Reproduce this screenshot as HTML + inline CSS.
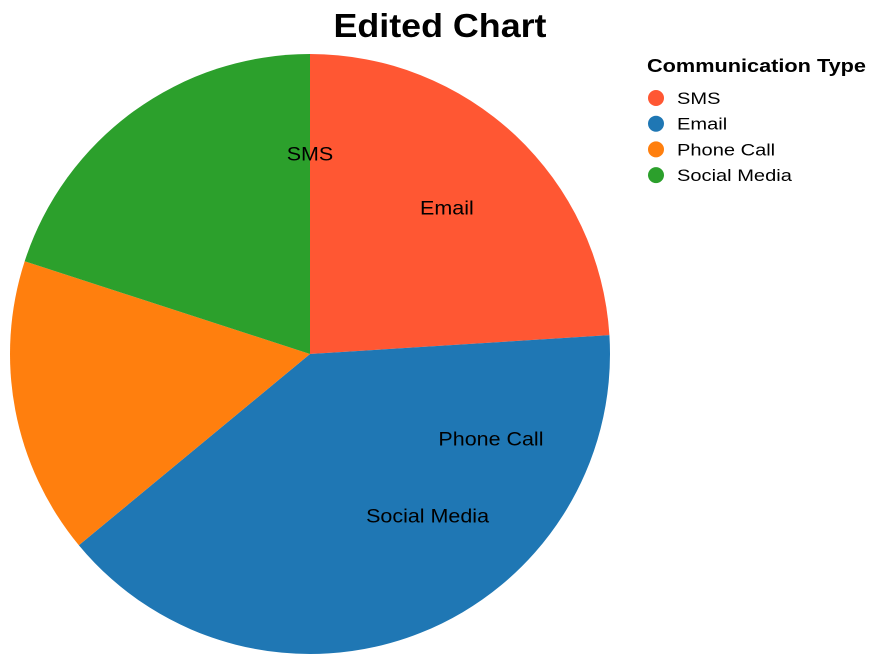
<!DOCTYPE html>
<html><head><meta charset="utf-8"><style>
html,body{margin:0;padding:0;background:#fff;}
svg{display:block;font-family:"Liberation Sans",Arial,sans-serif;}
</style></head><body>
<svg id="chart" width="880" height="664" viewBox="0 0 880 664">
<text x="440" y="37" text-anchor="middle" font-size="33" font-weight="bold" fill="#000" textLength="213" lengthAdjust="spacingAndGlyphs">Edited Chart</text>
<g id="slices"></g>
<g id="labels"></g>
<g id="legend">
<text x="647" y="72" font-size="18" font-weight="bold" fill="#000" textLength="219" lengthAdjust="spacingAndGlyphs">Communication Type</text>
</g>
</svg>
<script>
const categories = ["SMS", "Email", "Phone Call", "Social Media"];
const values = [24, 40, 16, 20];
const colors = ["#ff5733", "#1f77b4", "#ff7f0e", "#2ca02c"];

const NS = "http://www.w3.org/2000/svg";
const cx = 310, cy = 354, R = 300, LR = 200;
const total = values.reduce((a, b) => a + b, 0);
function ang(v) { return v / total * 2 * Math.PI; }
function pt(a, r) { return [cx + r * Math.sin(a), cy - r * Math.cos(a)]; }

const slices = document.getElementById('slices');
let start = 0;
values.forEach((v, i) => {
  const a0 = start, a1 = start + ang(v);
  const p0 = pt(a0, R), p1 = pt(a1, R);
  const large = (a1 - a0) > Math.PI ? 1 : 0;
  const p = document.createElementNS(NS, 'path');
  p.setAttribute('d', `M${cx},${cy} L${p0[0]},${p0[1]} A${R},${R} 0 ${large} 1 ${p1[0]},${p1[1]} Z`);
  p.setAttribute('fill', colors[i]);
  
  
  slices.appendChild(p);
  start = a1;
});

const labelAngles = [0, ang(values[0]) / 2, ang(values[0]) + ang(values[2]) / 2, ang(values[0]) + ang(values[2])];
const labels = document.getElementById('labels');
categories.forEach((c, i) => {
  const q = pt(labelAngles[i], LR);
  const t = document.createElementNS(NS, 'text');
  t.setAttribute('x', q[0]); t.setAttribute('y', q[1] + 6.5);
  t.setAttribute('text-anchor', 'middle');
  t.setAttribute('font-size', '19');
  t.setAttribute('fill', '#000');
  t.textContent = c;
  
  
  labels.appendChild(t);
  const w = t.getComputedTextLength();
  t.setAttribute('textLength', w * 1.13);
  t.setAttribute('lengthAdjust', 'spacingAndGlyphs');
});

const legend = document.getElementById('legend');
categories.forEach((c, i) => {
  const y = 98 + i * 25.7;
  const g = document.createElementNS(NS, 'g');
  
  
  const ci = document.createElementNS(NS, 'circle');
  ci.setAttribute('cx', 656); ci.setAttribute('cy', y); ci.setAttribute('r', 8);
  ci.setAttribute('fill', colors[i]);
  
  
  const t = document.createElementNS(NS, 'text');
  t.setAttribute('x', 677); t.setAttribute('y', y + 6);
  t.setAttribute('font-size', '17'); t.setAttribute('fill', '#000');
  t.textContent = c;
  
  
  g.appendChild(ci); g.appendChild(t);
  legend.appendChild(g);
  const w = t.getComputedTextLength();
  t.setAttribute('textLength', w * 1.18);
  t.setAttribute('lengthAdjust', 'spacingAndGlyphs');
});
</script>
</body></html>
